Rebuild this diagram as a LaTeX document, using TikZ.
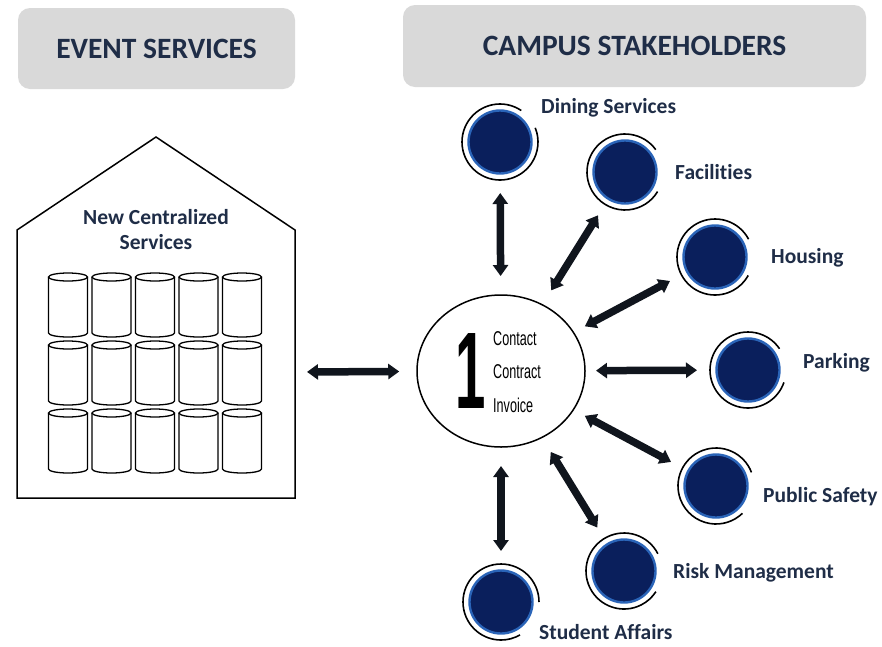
\documentclass[tikz,border=0pt]{standalone}
\usepackage{fontspec}
\setmainfont{Carlito}[Ligatures=NoCommon]
\newfontfamily\condfont{Liberation Sans}
\usetikzlibrary{arrows.meta,shapes.geometric}

\definecolor{labelnavy}{HTML}{1F2D47}
\definecolor{headgray}{HTML}{D9D9D9}
\definecolor{discnavy}{HTML}{0A1F5C}
\definecolor{discrim}{HTML}{2A64B8}
\definecolor{arrowink}{HTML}{10151D}

\begin{document}
\begin{tikzpicture}[x=1pt,y=-1pt,
  header/.style={fill=headgray, rounded corners=12pt, draw=none, inner sep=0pt,
    font=\bfseries\fontsize{29.5}{34}\selectfont, text=labelnavy},
  tag/.style={font=\bfseries\fontsize{21.5}{26}\selectfont, text=labelnavy, anchor=west, inner sep=0pt},
  hubtext/.style={anchor=west, inner sep=0pt, font=\condfont\fontsize{20}{20}\selectfont, text=black},
  disc/.style={circle, minimum size=63pt, inner sep=0pt, fill=discnavy, draw=discrim, line width=2.4pt},
  ring/.style={line width=1.6pt, black},
  link/.style={arrowink, line width=7.5pt,
    {Triangle[length=11pt,width=15pt]}-{Triangle[length=11pt,width=15pt]}},
  spoke/.style={link, shorten <=95pt, shorten >=51pt},
  outline/.style={line width=1.5pt, black, line join=miter},
  cyl/.style={line width=1.3pt, black},
]
\useasboundingbox (0,0) rectangle (882,646);

% section headers
\node[header, minimum width=277pt, minimum height=81pt] (events) at (156.5,48.5) {EVENT SERVICES};
\node[header, minimum width=463pt, minimum height=82pt] (campus) at (634.5,46) {CAMPUS STAKEHOLDERS};

% the house of centralized services
\draw[outline] (17,498) -- (17,230) -- (156,137) -- (295,230) -- (295,498) -- cycle;
\coordinate (houseE) at (295,372);
\node[font=\bfseries\fontsize{21.5}{25}\selectfont, text=labelnavy, align=center] (central) at (156,229.5)
  {New Centralized\\Services};

% stacked service cylinders
\foreach \i in {0,...,4}{
  \foreach \j in {0,1,2}{
    \pgfmathsetmacro{\cx}{68+43.5*\i}
    \pgfmathsetmacro{\ty}{277+68*\j}
    \pgfmathsetmacro{\by}{\ty+56}
    \draw[cyl] (\cx-19.5,\ty) -- (\cx-19.5,\by)
      arc[start angle=180, end angle=0, x radius=19.5, y radius=4] -- (\cx+19.5,\ty);
    \draw[cyl] (\cx,\ty) ellipse[x radius=19.5, y radius=4];
  }
}

% single point of contact hub
\node[draw, ellipse, line width=1.5pt, minimum width=168pt, minimum height=152pt] (hub) at (501,371) {};
\node[inner sep=0pt, font=\condfont\bfseries\fontsize{109}{109}\selectfont] (one) at (471,371)
  {\scalebox{0.5}[1]{1}};
\node[hubtext] (contact) at (493,339) {\scalebox{0.63}[1]{Contact}};
\node[hubtext] (contract) at (493,372) {\scalebox{0.63}[1]{Contract}};
\node[hubtext] (invoice) at (493,405) {\scalebox{0.63}[1]{Invoice}};

% stakeholders: name / x / y / ring start / ring end / label / label x / label y
\foreach \n/\x/\y/\a/\b/\t/\lx/\ly in {
  dining/500/142/56/382/Dining Services/541/108,
  facilities/625/172/36/329/Facilities/675/172,
  housing/715/257/28/331/Housing/771/258,
  parking/748/370/34/341/Parking/803/363,
  safety/716/486/21/314/Public Safety/763/497,
  risk/624/571/27/327/Risk Management/673/573,
  student/501/602/0/300/Student Affairs/539/632}{
  \node[disc] (\n) at (\x,\y) {};
  \draw[ring] (\n.center) ++(-\a:38) arc[start angle=-\a, end angle=-\b, radius=38];
  \node[tag] (\n-tag) at (\lx,\ly) {\t};
}

% connectors
\draw[link, shorten <=12pt, shorten >=17pt] (houseE) -- (hub);
\foreach \n in {dining,facilities,housing,parking,safety,risk,student}{
  \draw[spoke] (hub.center) -- (\n.center);
}
\end{tikzpicture}
\end{document}
